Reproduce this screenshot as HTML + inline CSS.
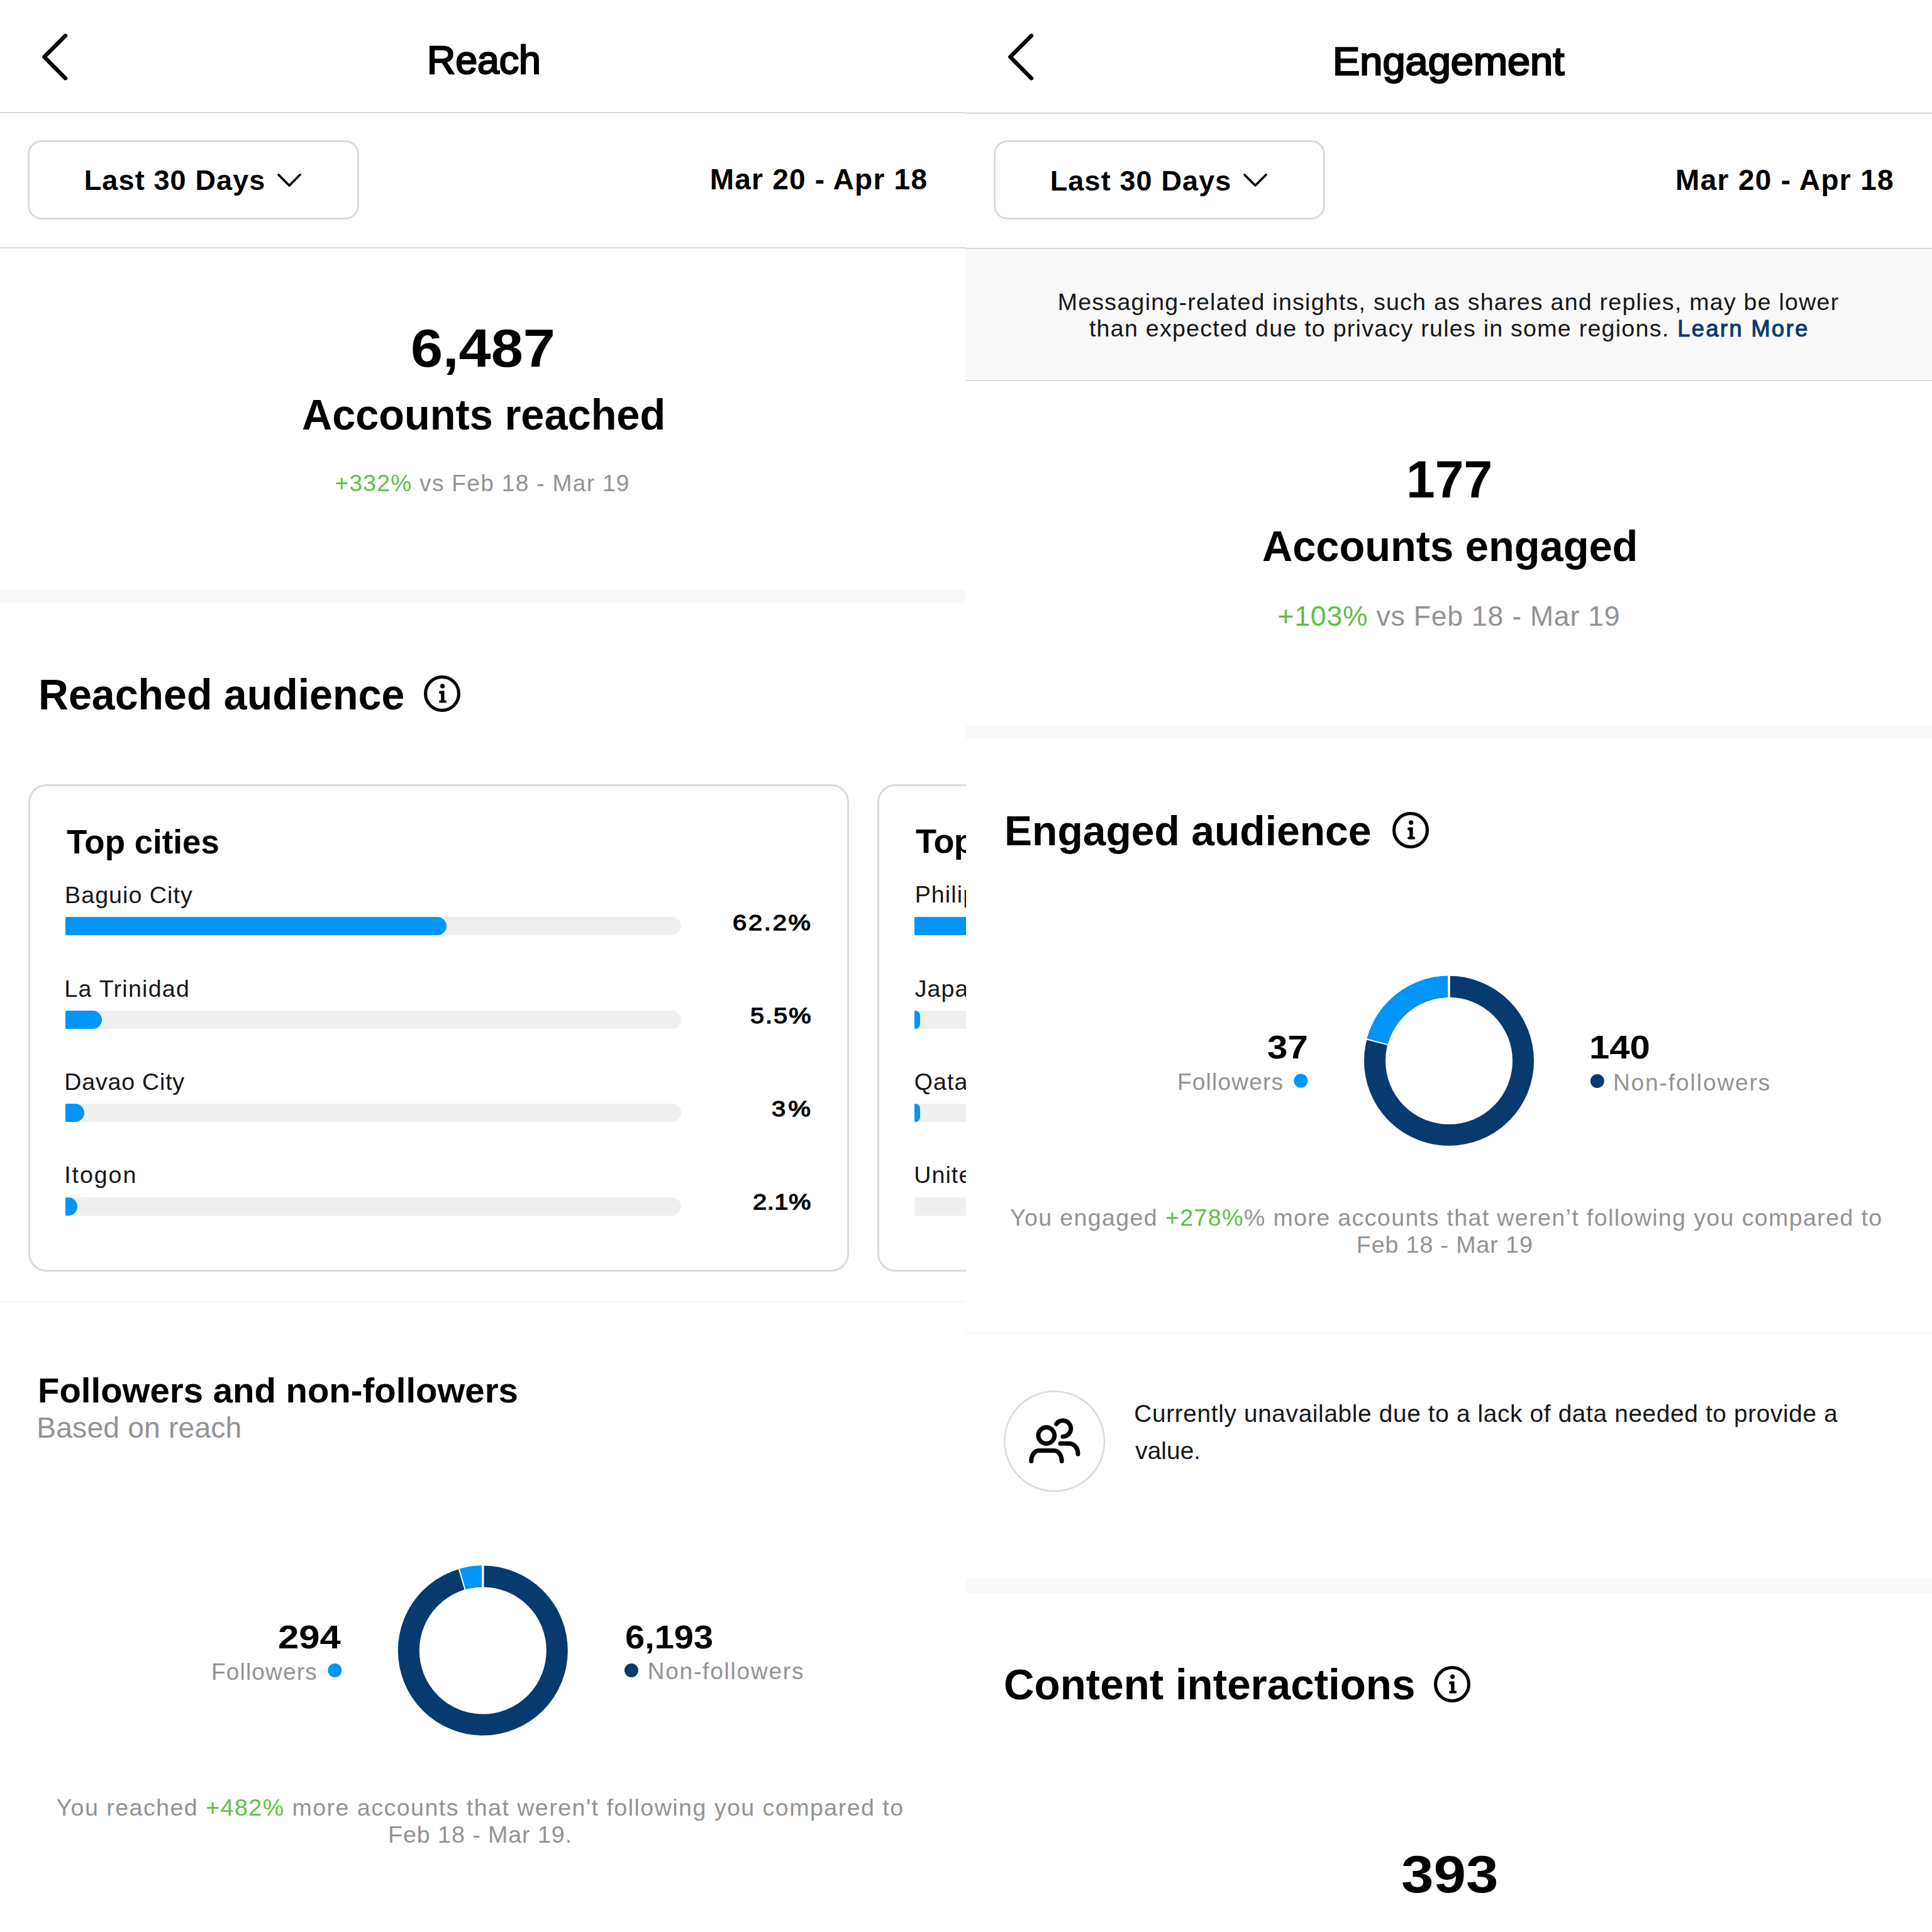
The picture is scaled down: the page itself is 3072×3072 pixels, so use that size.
<!DOCTYPE html>
<html><head><meta charset="utf-8"><title>Reach and Engagement insights</title>
<style>
html,body{margin:0;padding:0;background:#fff;}
body{width:3072px;height:3072px;position:relative;overflow:hidden;font-family:"Liberation Sans",sans-serif;}
.panel{position:absolute;top:0;width:1536px;height:3072px;overflow:hidden;background:#fff;}
.abs{position:absolute;display:block;}
.t{position:absolute;white-space:nowrap;}
</style></head><body>
<div class="panel" style="left:0">
<svg class="abs" style="left:0;top:0" width="200" height="180"><path d="M104 56.8L70.3 90.6L104 124.4" fill="none" stroke="#000" stroke-width="6.4" stroke-linecap="round" stroke-linejoin="round"/></svg><div class="abs" style="left:0;top:178px;width:1536px;height:2px;background:#dadada"></div><div class="abs" style="left:44px;top:223px;width:526.5px;height:125.5px;box-sizing:border-box;border:3px solid #dbdbdb;border-radius:22px"></div><svg class="abs" style="left:400px;top:240px" width="120" height="80"><path d="M43 38L60 55L77 38" fill="none" stroke="#000" stroke-width="3.6" stroke-linecap="round" stroke-linejoin="round"/></svg><div class="abs" style="left:0;top:393px;width:1536px;height:2px;background:#dadada"></div>
<div class="abs" style="left:0;top:937px;width:1536px;height:22px;background:#f9f9f9"></div>
<svg class="abs" style="left:674.0px;top:1074.2px" width="58" height="58" viewBox="0 0 58 58"><circle cx="29" cy="29" r="26.45" fill="none" stroke="#000" stroke-width="5.1"/><circle cx="29.6" cy="16.9" r="3.55" fill="#000"/><path d="M26.4 24.5H32.6V39.4H34.2A2.1 2.1 0 0 1 34.2 43.6H26.1A2.1 2.1 0 0 1 26.1 39.4H27.2V29.3H26.4A2.4 2.4 0 0 1 26.4 24.5Z" fill="#000"/></svg>
<div class="abs" style="left:45px;top:1247px;width:1305.3px;height:774.5px;box-sizing:border-box;border:3px solid #dbdbdb;border-radius:28.5px"></div>
<div class="abs" style="left:1395px;top:1247px;width:1305.3px;height:774.5px;box-sizing:border-box;border:3px solid #dbdbdb;border-radius:28.5px"></div>
<div class="abs" style="left:104.0px;top:1458.1px;width:979.0px;height:29.3px;background:#efefef;border-radius:2px 14.65px 14.65px 2px"></div><div class="abs" style="left:104.0px;top:1458.1px;width:606.0px;height:29.3px;background:#0095f6;border-radius:2px 14.65px 14.65px 2px"></div>
<div class="abs" style="left:104.0px;top:1606.7px;width:979.0px;height:29.3px;background:#efefef;border-radius:2px 14.65px 14.65px 2px"></div><div class="abs" style="left:104.0px;top:1606.7px;width:58.2px;height:29.3px;background:#0095f6;border-radius:2px 14.65px 14.65px 2px"></div>
<div class="abs" style="left:104.0px;top:1755.2px;width:979.0px;height:29.3px;background:#efefef;border-radius:2px 14.65px 14.65px 2px"></div><div class="abs" style="left:104.0px;top:1755.2px;width:29.5px;height:29.3px;background:#0095f6;border-radius:2px 14.65px 14.65px 2px"></div>
<div class="abs" style="left:104.0px;top:1903.8px;width:979.0px;height:29.3px;background:#efefef;border-radius:2px 14.65px 14.65px 2px"></div><div class="abs" style="left:104.0px;top:1903.8px;width:19.3px;height:29.3px;background:#0095f6;border-radius:2px 14.65px 14.65px 2px"></div>
<div class="abs" style="left:1454.0px;top:1458.1px;width:979.0px;height:29.3px;background:#efefef;border-radius:2px 14.65px 14.65px 2px"></div><div class="abs" style="left:1454.0px;top:1458.1px;width:446.0px;height:29.3px;background:#0095f6;border-radius:2px 14.65px 14.65px 2px"></div>
<div class="abs" style="left:1454.0px;top:1606.7px;width:979.0px;height:29.3px;background:#efefef;border-radius:2px 14.65px 14.65px 2px"></div><div class="abs" style="left:1454.0px;top:1606.7px;width:9.3px;height:29.3px;background:#0095f6;border-radius:2px 14.65px 14.65px 2px"></div>
<div class="abs" style="left:1454.0px;top:1755.2px;width:979.0px;height:29.3px;background:#efefef;border-radius:2px 14.65px 14.65px 2px"></div><div class="abs" style="left:1454.0px;top:1755.2px;width:9.3px;height:29.3px;background:#0095f6;border-radius:2px 14.65px 14.65px 2px"></div>
<div class="abs" style="left:1454.0px;top:1903.8px;width:979.0px;height:29.3px;background:#efefef;border-radius:2px 14.65px 14.65px 2px"></div>
<div class="abs" style="left:0;top:2068px;width:1536px;height:4px;background:#f8f8f8"></div>
<svg class="abs" style="left:0;top:0" width="1536" height="3072"><circle cx="767.80" cy="2624.50" r="118" fill="none" stroke="#073a6f" stroke-width="34"/><path d="M734.65 2511.25 A118 118 0 0 1 767.80 2506.50" fill="none" stroke="#0095f6" stroke-width="34"/><line x1="767.80" y1="2525.50" x2="767.80" y2="2487.50" stroke="#fff" stroke-width="3.6"/><line x1="739.99" y1="2529.49" x2="729.31" y2="2493.02" stroke="#fff" stroke-width="2.0"/><circle cx="532.4" cy="2656" r="11" fill="#0095f6"/><circle cx="1003.9" cy="2656" r="11" fill="#073a6f"/></svg>
<div class="t" style="left:678.87px;top:65.45px;font-size:62.40px;line-height:62.40px;font-weight:400;color:#000;letter-spacing:0.000px;transform:scaleX(1.0031);transform-origin:0 0;-webkit-text-stroke:2.40px #000">Reach</div>
<div class="t" style="left:133.69px;top:264.00px;font-size:45.00px;line-height:45.00px;font-weight:700;color:#000;letter-spacing:1.139px">Last 30 Days</div>
<div class="t" style="left:1128.69px;top:261.50px;font-size:46.00px;line-height:46.00px;font-weight:700;color:#000;letter-spacing:1.228px">Mar 20 - Apr 18</div>
<div class="t" style="left:652.99px;top:510.60px;font-size:85.00px;line-height:85.00px;font-weight:700;color:#000;letter-spacing:-0.000px;transform:scaleX(1.0802);transform-origin:0 0">6,487</div>
<div class="t" style="left:479.96px;top:625.80px;font-size:68.60px;line-height:68.60px;font-weight:700;color:#000;letter-spacing:0.000px;transform:scaleX(0.9723);transform-origin:0 0">Accounts reached</div>
<div class="t" style="left:532.43px;top:749.90px;font-size:37.00px;line-height:37.00px;font-weight:400;color:#939393;letter-spacing:1.346px"><span style="color:#5ec043">+332%</span> vs Feb 18 - Mar 19</div>
<div class="t" style="left:60.86px;top:1070.60px;font-size:67.70px;line-height:67.70px;font-weight:700;color:#000;letter-spacing:0.000px;transform:scaleX(0.9796);transform-origin:0 0">Reached audience</div>
<div class="t" style="left:106.40px;top:1310.60px;font-size:54.00px;line-height:54.00px;font-weight:700;color:#000;letter-spacing:0.000px;transform:scaleX(0.9790);transform-origin:0 0">Top cities</div>
<div class="t" style="left:103.09px;top:1404.50px;font-size:37.60px;line-height:37.60px;font-weight:400;color:#161616;letter-spacing:1.043px">Baguio City</div>
<div class="t" style="left:1165.23px;top:1449.82px;font-size:34.60px;line-height:34.60px;font-weight:400;color:#000;letter-spacing:2.422px;transform:scaleX(1.1500);transform-origin:0 0;-webkit-text-stroke:1.30px #000">62.2%</div>
<div class="t" style="left:102.29px;top:1553.60px;font-size:37.60px;line-height:37.60px;font-weight:400;color:#161616;letter-spacing:1.271px">La Trinidad</div>
<div class="t" style="left:1192.69px;top:1597.92px;font-size:34.60px;line-height:34.60px;font-weight:400;color:#000;letter-spacing:1.700px;transform:scaleX(1.1500);transform-origin:0 0;-webkit-text-stroke:1.30px #000">5.5%</div>
<div class="t" style="left:102.29px;top:1701.60px;font-size:37.60px;line-height:37.60px;font-weight:400;color:#161616;letter-spacing:0.789px">Davao City</div>
<div class="t" style="left:1227.22px;top:1746.02px;font-size:34.60px;line-height:34.60px;font-weight:400;color:#000;letter-spacing:3.872px;transform:scaleX(1.1500);transform-origin:0 0;-webkit-text-stroke:1.30px #000">3%</div>
<div class="t" style="left:102.21px;top:1849.90px;font-size:37.60px;line-height:37.60px;font-weight:400;color:#161616;letter-spacing:1.929px">Itogon</div>
<div class="t" style="left:1196.75px;top:1894.12px;font-size:34.60px;line-height:34.60px;font-weight:400;color:#000;letter-spacing:0.524px;transform:scaleX(1.1500);transform-origin:0 0;-webkit-text-stroke:1.30px #000">2.1%</div>
<div class="t" style="left:1455.98px;top:1309.80px;font-size:54.00px;line-height:54.00px;font-weight:700;color:#000;letter-spacing:-0.570px">Top countries</div>
<div class="t" style="left:1454.69px;top:1404.40px;font-size:37.60px;line-height:37.60px;font-weight:400;color:#161616;letter-spacing:1.100px">Philippines</div>
<div class="t" style="left:1454.74px;top:1553.60px;font-size:37.60px;line-height:37.60px;font-weight:400;color:#161616;letter-spacing:1.100px">Japan</div>
<div class="t" style="left:1453.73px;top:1701.60px;font-size:37.60px;line-height:37.60px;font-weight:400;color:#161616;letter-spacing:1.100px">Qatar</div>
<div class="t" style="left:1453.17px;top:1849.90px;font-size:37.60px;line-height:37.60px;font-weight:400;color:#161616;letter-spacing:1.100px">United States</div>
<div class="t" style="left:59.54px;top:2182.80px;font-size:56.40px;line-height:56.40px;font-weight:700;color:#000;letter-spacing:0.000px;transform:scaleX(0.9993);transform-origin:0 0">Followers and non-followers</div>
<div class="t" style="left:58.24px;top:2246.80px;font-size:46.20px;line-height:46.20px;font-weight:400;color:#939393;letter-spacing:0.189px">Based on reach</div>
<div class="t" style="left:441.52px;top:2577.90px;font-size:51.70px;line-height:51.70px;font-weight:700;color:#000;letter-spacing:0.000px;transform:scaleX(1.1584);transform-origin:0 0">294</div>
<div class="t" style="left:335.99px;top:2639.60px;font-size:37.00px;line-height:37.00px;font-weight:400;color:#939393;letter-spacing:1.187px">Followers</div>
<div class="t" style="left:993.64px;top:2578.30px;font-size:51.70px;line-height:51.70px;font-weight:700;color:#000;letter-spacing:0.000px;transform:scaleX(1.0828);transform-origin:0 0">6,193</div>
<div class="t" style="left:1029.69px;top:2639.20px;font-size:37.00px;line-height:37.00px;font-weight:400;color:#939393;letter-spacing:1.800px">Non-followers</div>
<div class="t" style="left:89.47px;top:2855.60px;font-size:37.60px;line-height:37.60px;font-weight:400;color:#939393;letter-spacing:1.464px">You reached <span style="color:#5ec043">+482%</span> more accounts that weren't following you compared to</div>
<div class="t" style="left:617.09px;top:2898.50px;font-size:37.60px;line-height:37.60px;font-weight:400;color:#939393;letter-spacing:0.950px">Feb 18 - Mar 19.</div>
</div>
<div class="panel" style="left:1536px">
<svg class="abs" style="left:0;top:0" width="200" height="180"><path d="M104 56.8L70.3 90.6L104 124.4" fill="none" stroke="#000" stroke-width="6.4" stroke-linecap="round" stroke-linejoin="round"/></svg><div class="abs" style="left:0;top:179px;width:1536px;height:2px;background:#dadada"></div><div class="abs" style="left:44px;top:223px;width:526.5px;height:125.5px;box-sizing:border-box;border:3px solid #dbdbdb;border-radius:22px"></div><svg class="abs" style="left:400px;top:240px" width="120" height="80"><path d="M43 38L60 55L77 38" fill="none" stroke="#000" stroke-width="3.6" stroke-linecap="round" stroke-linejoin="round"/></svg><div class="abs" style="left:0;top:394px;width:1536px;height:2px;background:#dadada"></div>
<div class="abs" style="left:0;top:396px;width:1536px;height:208px;background:#f9f9f9"></div>
<div class="abs" style="left:0;top:604px;width:1536px;height:2px;background:#dcdcdc"></div>
<div class="abs" style="left:0;top:1153px;width:1536px;height:21.5px;background:#f9f9f9"></div>
<svg class="abs" style="left:677.6px;top:1291.2px" width="58" height="58" viewBox="0 0 58 58"><circle cx="29" cy="29" r="26.45" fill="none" stroke="#000" stroke-width="5.1"/><circle cx="29.6" cy="16.9" r="3.55" fill="#000"/><path d="M26.4 24.5H32.6V39.4H34.2A2.1 2.1 0 0 1 34.2 43.6H26.1A2.1 2.1 0 0 1 26.1 39.4H27.2V29.3H26.4A2.4 2.4 0 0 1 26.4 24.5Z" fill="#000"/></svg>
<svg class="abs" style="left:0;top:0" width="1536" height="3072"><circle cx="768.00" cy="1686.80" r="118" fill="none" stroke="#073a6f" stroke-width="34"/><path d="M653.89 1656.77 A118 118 0 0 1 768.00 1568.80" fill="none" stroke="#0095f6" stroke-width="34"/><line x1="768.00" y1="1587.80" x2="768.00" y2="1549.80" stroke="#fff" stroke-width="3.6"/><line x1="672.26" y1="1661.60" x2="635.51" y2="1651.93" stroke="#fff" stroke-width="2.0"/><circle cx="532.4" cy="1718.5" r="11" fill="#0095f6"/><circle cx="1003.8" cy="1719" r="11" fill="#073a6f"/><circle cx="140.70" cy="2291.6" r="79.4" fill="none" stroke="#dbdbdb" stroke-width="2.6"/><g transform="translate(-1536 0)" fill="none" stroke="#000" stroke-width="7" stroke-linecap="round" stroke-linejoin="round"><circle cx="1663.8" cy="2282.5" r="12.9"/><path d="M1639.8 2323.3A12 16.9 0 0 1 1651.8 2306.4L1676.2 2306.4A12 16.9 0 0 1 1688.2 2323.3"/><path d="M1679.65 2264.14A12.7 12.7 0 1 1 1690 2284.2"/><path d="M1686 2295.2L1699 2295.2C1708 2295.2 1714 2302 1714 2312"/></g></svg>
<div class="abs" style="left:0;top:2117px;width:1536px;height:4px;background:#f8f8f8"></div>
<div class="abs" style="left:0;top:2510px;width:1536px;height:23px;background:#f9f9f9"></div>
<svg class="abs" style="left:744.3px;top:2649.3px" width="58" height="58" viewBox="0 0 58 58"><circle cx="29" cy="29" r="26.45" fill="none" stroke="#000" stroke-width="5.1"/><circle cx="29.6" cy="16.9" r="3.55" fill="#000"/><path d="M26.4 24.5H32.6V39.4H34.2A2.1 2.1 0 0 1 34.2 43.6H26.1A2.1 2.1 0 0 1 26.1 39.4H27.2V29.3H26.4A2.4 2.4 0 0 1 26.4 24.5Z" fill="#000"/></svg>
<div class="t" style="left:583.41px;top:65.75px;font-size:63.00px;line-height:63.00px;font-weight:400;color:#000;letter-spacing:0.000px;transform:scaleX(1.0307);transform-origin:0 0;-webkit-text-stroke:2.40px #000">Engagement</div>
<div class="t" style="left:133.69px;top:264.50px;font-size:45.00px;line-height:45.00px;font-weight:700;color:#000;letter-spacing:1.139px">Last 30 Days</div>
<div class="t" style="left:1128.09px;top:263.20px;font-size:46.00px;line-height:46.00px;font-weight:700;color:#000;letter-spacing:1.320px">Mar 20 - Apr 18</div>
<div class="t" style="left:145.69px;top:461.60px;font-size:37.60px;line-height:37.60px;font-weight:400;color:#161616;letter-spacing:1.228px">Messaging-related insights, such as shares and replies, may be lower</div>
<div class="t" style="left:195.90px;top:504.30px;font-size:37.60px;line-height:37.60px;font-weight:400;color:#161616;letter-spacing:1.255px">than expected due to privacy rules in some regions.</div>
<div class="t" style="left:1131.31px;top:504.77px;font-size:36.20px;line-height:36.20px;font-weight:400;color:#0c3b72;letter-spacing:2.437px;-webkit-text-stroke:1.20px #0c3b72">Learn More</div>
<div class="t" style="left:699.61px;top:721.00px;font-size:83.40px;line-height:83.40px;font-weight:700;color:#000;letter-spacing:0.000px;transform:scaleX(0.9854);transform-origin:0 0">177</div>
<div class="t" style="left:471.14px;top:834.00px;font-size:68.00px;line-height:68.00px;font-weight:700;color:#000;letter-spacing:0.000px;transform:scaleX(0.9820);transform-origin:0 0">Accounts engaged</div>
<div class="t" style="left:495.56px;top:958.00px;font-size:44.50px;line-height:44.50px;font-weight:400;color:#939393;letter-spacing:0.796px"><span style="color:#5ec043">+103%</span> vs Feb 18 - Mar 19</div>
<div class="t" style="left:61.17px;top:1287.80px;font-size:66.60px;line-height:66.60px;font-weight:700;color:#000;letter-spacing:0.000px;transform:scaleX(0.9917);transform-origin:0 0">Engaged audience</div>
<div class="t" style="left:479.17px;top:1640.40px;font-size:51.70px;line-height:51.70px;font-weight:700;color:#000;letter-spacing:0.000px;transform:scaleX(1.1269);transform-origin:0 0">37</div>
<div class="t" style="left:335.99px;top:1702.00px;font-size:37.00px;line-height:37.00px;font-weight:400;color:#939393;letter-spacing:1.225px">Followers</div>
<div class="t" style="left:991.14px;top:1640.40px;font-size:51.70px;line-height:51.70px;font-weight:700;color:#000;letter-spacing:0.000px;transform:scaleX(1.1207);transform-origin:0 0">140</div>
<div class="t" style="left:1028.89px;top:1702.50px;font-size:37.00px;line-height:37.00px;font-weight:400;color:#939393;letter-spacing:1.941px">Non-followers</div>
<div class="t" style="left:69.97px;top:1917.90px;font-size:37.60px;line-height:37.60px;font-weight:400;color:#939393;letter-spacing:1.365px">You engaged <span style="color:#5ec043">+278%</span>% more accounts that weren’t following you compared to</div>
<div class="t" style="left:620.79px;top:1960.90px;font-size:37.60px;line-height:37.60px;font-weight:400;color:#939393;letter-spacing:0.906px">Feb 18 - Mar 19</div>
<div class="t" style="left:267.31px;top:2229.00px;font-size:38.80px;line-height:38.80px;font-weight:400;color:#161616;letter-spacing:0.646px">Currently unavailable due to a lack of data needed to provide a</div>
<div class="t" style="left:269.23px;top:2288.40px;font-size:38.80px;line-height:38.80px;font-weight:400;color:#161616;letter-spacing:0.062px">value.</div>
<div class="t" style="left:60.12px;top:2644.40px;font-size:68.30px;line-height:68.30px;font-weight:700;color:#000;letter-spacing:0.000px;transform:scaleX(0.9855);transform-origin:0 0">Content interactions</div>
<div class="t" style="left:691.77px;top:2939.80px;font-size:82.80px;line-height:82.80px;font-weight:700;color:#000;letter-spacing:0.000px;transform:scaleX(1.1195);transform-origin:0 0">393</div>
</div>
</body></html>
